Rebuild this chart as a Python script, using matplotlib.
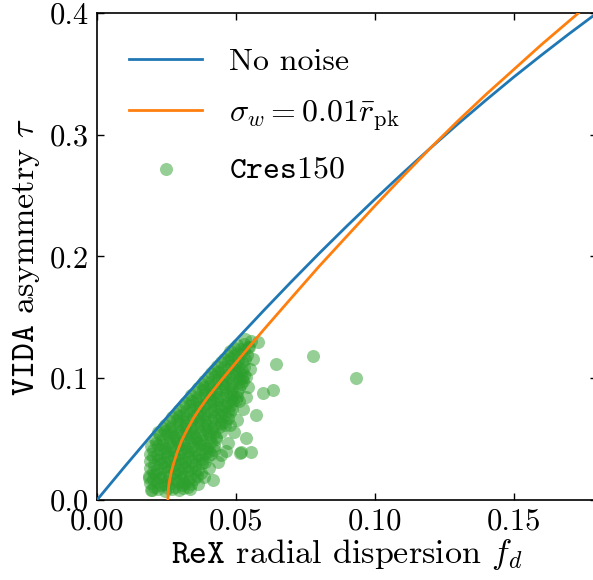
import matplotlib
matplotlib.use('Agg')
import matplotlib.pyplot as plt
from matplotlib.ticker import MultipleLocator, FormatStrFormatter

plt.rcParams['font.family'] = 'serif'
plt.rcParams['font.serif'] = ['cmr10']
plt.rcParams['mathtext.fontset'] = 'cm'
plt.rcParams['axes.formatter.use_mathtext'] = True
plt.rcParams['axes.unicode_minus'] = False

# ---- no noise curve
fd_clean = [0.0, 0.01, 0.02, 0.03, 0.04, 0.05, 0.06, 0.07, 0.08, 0.09,
            0.10, 0.11, 0.12, 0.13, 0.14, 0.15, 0.16, 0.17, 0.18]
tau_clean = [0.0, 0.0275, 0.0544, 0.0806, 0.1062, 0.1313, 0.1556, 0.1794, 0.2026, 0.2251,
             0.2470, 0.2683, 0.2890, 0.3090, 0.3284, 0.3473, 0.3654, 0.3830, 0.4000]

# ---- sigma_w = 0.01 r_pk curve
fd_noisy = [0.0255, 0.0256, 0.0258, 0.0262, 0.0268, 0.0277, 0.029, 0.0305,
            0.0325, 0.0348, 0.0371, 0.0395, 0.0419, 0.0448, 0.05, 0.055, 0.06,
            0.07, 0.08, 0.09, 0.10, 0.11, 0.12, 0.13, 0.14, 0.15, 0.16, 0.17, 0.18]
tau_noisy = [0.0, 0.006, 0.011, 0.017, 0.0235, 0.031, 0.040, 0.049,
             0.058, 0.0675, 0.0755, 0.0832, 0.0902, 0.0985, 0.1128, 0.1264, 0.1398,
             0.166, 0.192, 0.2168, 0.2415, 0.2655, 0.289, 0.3115, 0.333, 0.3535,
             0.374, 0.3935, 0.413]

# ---- Cres150 points: main rows (bottom to top)
rows_x = [
    0.0195, 0.022, 0.0245, 0.027, 0.0295, 0.031, 0.0335,
    0.019, 0.0215, 0.024, 0.0265, 0.029, 0.0315, 0.034,
    0.0188, 0.021, 0.0235, 0.026, 0.0285, 0.031, 0.0335, 0.036,
    0.019, 0.0215, 0.024, 0.0265, 0.029, 0.0315, 0.034, 0.0365,
    0.0192, 0.0218, 0.0243, 0.0268, 0.0293, 0.0318, 0.0343, 0.0368, 0.039,
    0.019, 0.0215, 0.024, 0.0265, 0.029, 0.0315, 0.034, 0.0365, 0.039, 0.041,
    0.0195, 0.022, 0.0245, 0.027, 0.0295, 0.032, 0.0345, 0.037, 0.0395, 0.042,
    0.0208, 0.0233, 0.0258, 0.0283, 0.0308, 0.0333, 0.0358, 0.0383, 0.0408, 0.043,
    0.022, 0.0245, 0.027, 0.0295, 0.032, 0.0345, 0.037, 0.0395, 0.042, 0.0445,
    0.0245, 0.027, 0.0295, 0.032, 0.0345, 0.037, 0.0395, 0.042, 0.0445, 0.046,
    0.027, 0.0295, 0.032, 0.0345, 0.037, 0.0395, 0.042, 0.0445, 0.047,
    0.0295, 0.032, 0.0345, 0.037, 0.0395, 0.042, 0.0445, 0.047, 0.0485,
    0.0318, 0.0343, 0.0368, 0.0393, 0.0418, 0.0443, 0.0468, 0.049,
    0.034, 0.0365, 0.039, 0.0415, 0.044, 0.0465, 0.049, 0.0505,
    0.0362, 0.0387, 0.0412, 0.0437, 0.0462, 0.0487, 0.051,
    0.0385, 0.041, 0.0435, 0.046, 0.0485, 0.051, 0.0525,
    0.041, 0.0435, 0.046, 0.0485, 0.051, 0.053,
    0.0433, 0.0458, 0.0483, 0.0508, 0.053,
    0.0457, 0.0482, 0.0507, 0.0532,
    0.048, 0.0505, 0.053,
    0.0505, 0.053, 0.0548,
    0.0532, 0.0555,
]
rows_y = [
    0.008, 0.009, 0.007, 0.009, 0.008, 0.010, 0.009,
    0.014, 0.015, 0.013, 0.014, 0.015, 0.014, 0.013,
    0.020, 0.021, 0.019, 0.020, 0.021, 0.020, 0.019, 0.020,
    0.026, 0.025, 0.027, 0.026, 0.025, 0.027, 0.026, 0.025,
    0.032, 0.033, 0.031, 0.032, 0.033, 0.031, 0.032, 0.033, 0.031,
    0.038, 0.037, 0.039, 0.038, 0.037, 0.039, 0.038, 0.037, 0.039, 0.038,
    0.044, 0.045, 0.043, 0.044, 0.045, 0.043, 0.044, 0.045, 0.043, 0.044,
    0.050, 0.049, 0.051, 0.050, 0.049, 0.051, 0.050, 0.049, 0.051, 0.050,
    0.056, 0.057, 0.055, 0.056, 0.057, 0.055, 0.056, 0.057, 0.055, 0.056,
    0.062, 0.061, 0.063, 0.062, 0.061, 0.063, 0.062, 0.061, 0.063, 0.062,
    0.068, 0.069, 0.067, 0.068, 0.069, 0.067, 0.068, 0.069, 0.067,
    0.074, 0.073, 0.075, 0.074, 0.073, 0.075, 0.074, 0.073, 0.075,
    0.080, 0.081, 0.079, 0.080, 0.081, 0.079, 0.080, 0.081,
    0.086, 0.085, 0.087, 0.086, 0.085, 0.087, 0.086, 0.085,
    0.092, 0.093, 0.091, 0.092, 0.093, 0.091, 0.092,
    0.098, 0.097, 0.099, 0.098, 0.097, 0.099, 0.098,
    0.104, 0.105, 0.103, 0.104, 0.105, 0.103,
    0.110, 0.109, 0.111, 0.110, 0.109,
    0.116, 0.117, 0.115, 0.116,
    0.122, 0.121, 0.123,
    0.127, 0.128, 0.126,
    0.1325, 0.131,
]

# ---- Cres150 points: in-between rows of the dense core
mid_x = [
    0.0207, 0.0232, 0.0257, 0.0282, 0.0307, 0.0327,
    0.0202, 0.0227, 0.0252, 0.0277, 0.0302, 0.0327, 0.0350,
    0.0202, 0.0227, 0.0252, 0.0277, 0.0302, 0.0327, 0.0352, 0.0375,
    0.0204, 0.0229, 0.0254, 0.0279, 0.0304, 0.0329, 0.0354, 0.0379,
    0.0203, 0.0228, 0.0253, 0.0278, 0.0303, 0.0328, 0.0353, 0.0378, 0.0400,
    0.0203, 0.0228, 0.0253, 0.0278, 0.0303, 0.0328, 0.0353, 0.0378, 0.0403, 0.0420,
    0.0212, 0.0237, 0.0262, 0.0287, 0.0312, 0.0337, 0.0362, 0.0387, 0.0412,
    0.0227, 0.0252, 0.0277, 0.0302, 0.0327, 0.0352, 0.0377, 0.0402, 0.0427,
    0.0238, 0.0263, 0.0288, 0.0313, 0.0338, 0.0363, 0.0388, 0.0413, 0.0438,
    0.0263, 0.0288, 0.0313, 0.0338, 0.0363, 0.0388, 0.0413, 0.0438, 0.0460,
    0.0285, 0.0310, 0.0335, 0.0360, 0.0385, 0.0410, 0.0435, 0.0460, 0.0480,
    0.0310, 0.0335, 0.0360, 0.0385, 0.0410, 0.0435, 0.0460, 0.0483,
    0.0332, 0.0357, 0.0382, 0.0407, 0.0432, 0.0457, 0.0482, 0.0500,
    0.0355, 0.0380, 0.0405, 0.0430, 0.0455, 0.0480, 0.0503,
    0.0378, 0.0403, 0.0428, 0.0453, 0.0478, 0.0503, 0.0520,
    0.0400, 0.0425, 0.0450, 0.0475, 0.0500, 0.0522,
    0.0423, 0.0448, 0.0473, 0.0498, 0.0522,
    0.0447, 0.0472, 0.0497, 0.0522,
    0.0470, 0.0495, 0.0520, 0.0540,
    0.0495, 0.0520, 0.0542,
]
mid_y = [
    0.011, 0.012, 0.010, 0.011, 0.012, 0.011,
    0.017, 0.018, 0.016, 0.017, 0.018, 0.016, 0.017,
    0.023, 0.022, 0.024, 0.023, 0.022, 0.024, 0.023, 0.022,
    0.029, 0.030, 0.028, 0.029, 0.030, 0.028, 0.029, 0.030,
    0.035, 0.034, 0.036, 0.035, 0.034, 0.036, 0.035, 0.034, 0.036,
    0.041, 0.042, 0.040, 0.041, 0.042, 0.040, 0.041, 0.042, 0.040, 0.041,
    0.047, 0.046, 0.048, 0.047, 0.046, 0.048, 0.047, 0.046, 0.048,
    0.053, 0.054, 0.052, 0.053, 0.054, 0.052, 0.053, 0.054, 0.052,
    0.059, 0.058, 0.060, 0.059, 0.058, 0.060, 0.059, 0.058, 0.060,
    0.065, 0.066, 0.064, 0.065, 0.066, 0.064, 0.065, 0.066, 0.064,
    0.071, 0.070, 0.072, 0.071, 0.070, 0.072, 0.071, 0.070, 0.072,
    0.077, 0.078, 0.076, 0.077, 0.078, 0.076, 0.077, 0.078,
    0.083, 0.082, 0.084, 0.083, 0.082, 0.084, 0.083, 0.082,
    0.089, 0.090, 0.088, 0.089, 0.090, 0.088, 0.089,
    0.095, 0.094, 0.096, 0.095, 0.094, 0.096, 0.095,
    0.101, 0.102, 0.100, 0.101, 0.102, 0.100,
    0.107, 0.106, 0.108, 0.107, 0.106,
    0.113, 0.114, 0.112, 0.113,
    0.119, 0.118, 0.120, 0.119,
    0.125, 0.124, 0.126,
]

# ---- Cres150 points: loose ones on the fringe
loose_x = [0.0365, 0.0385, 0.0419, 0.0405, 0.0435, 0.0445, 0.0465, 0.0514, 0.0556,
           0.052, 0.0538, 0.0473, 0.0495, 0.0478, 0.0505, 0.0574, 0.0525, 0.051,
           0.0535, 0.0597, 0.0634, 0.0545, 0.0535, 0.055, 0.056, 0.058, 0.0646,
           0.0778, 0.0931, 0.0187, 0.0197]
loose_y = [0.013, 0.019, 0.0164, 0.026, 0.031, 0.037, 0.040, 0.0383, 0.0397,
           0.0397, 0.0506, 0.047, 0.056, 0.062, 0.066, 0.0698, 0.075, 0.081,
           0.085, 0.0876, 0.0903, 0.093, 0.101, 0.108, 0.116, 0.130, 0.112,
           0.118, 0.0999, 0.0178, 0.0082]

cres_x = rows_x + mid_x + loose_x
cres_y = rows_y + mid_y + loose_y

fig = plt.figure(figsize=(5.93, 5.8), dpi=100)
ax = fig.add_axes([97/593, 80/580, 500/593, 487/580])

pts = ax.scatter(cres_x, cres_y, s=88, color='tab:green', alpha=0.5,
                 linewidths=0, zorder=1)
l1, = ax.plot(fd_clean, tau_clean, color='tab:blue', lw=2, zorder=3)
l2, = ax.plot(fd_noisy, tau_noisy, color='tab:orange', lw=2, zorder=3)

ax.set_xlim(0, 0.18)
ax.set_ylim(0, 0.4)
ax.xaxis.set_major_locator(MultipleLocator(0.05))
ax.yaxis.set_major_locator(MultipleLocator(0.1))
ax.xaxis.set_major_formatter(FormatStrFormatter('%.2f'))
ax.yaxis.set_major_formatter(FormatStrFormatter('%.1f'))
ax.tick_params(direction='in', top=True, right=True, length=5, width=1,
               labelsize=22, pad=6)
for sp in ax.spines.values():
    sp.set_linewidth(1.2)

ax.set_xlabel(r'$\mathtt{ReX}$ radial dispersion $f_d$', fontsize=24.5, labelpad=1)
ax.set_ylabel(r'$\mathtt{VIDA}$ asymmetry $\tau$', fontsize=24.5, labelpad=5)

ax.legend([l1, l2, pts],
          ['No noise', r'$\sigma_w = 0.01\bar{r}_{\rm pk}$', r'$\mathtt{Cres150}$'],
          loc='upper left', bbox_to_anchor=(0.038, 0.955), borderaxespad=0,
          frameon=False, fontsize=23, scatterpoints=1,
          handlelength=2.3, handletextpad=0.85, labelspacing=0.7)

fig.savefig('out.png', dpi=100)
